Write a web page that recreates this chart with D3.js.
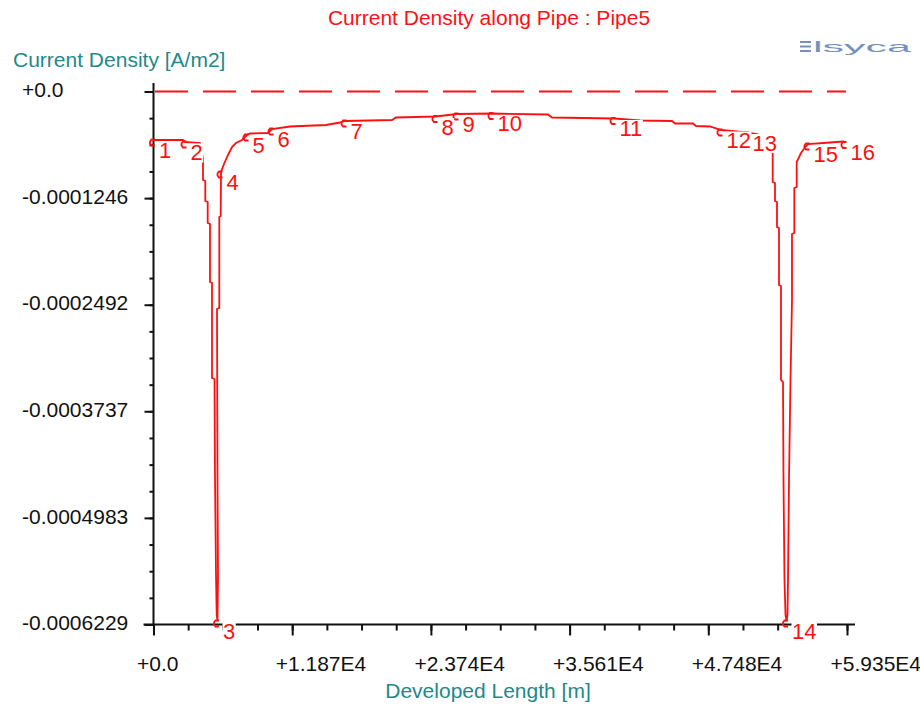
<!DOCTYPE html>
<html>
<head>
<meta charset="utf-8">
<script src="https://cdn.jsdelivr.net/npm/d3@7"></script>
<style>
  html, body { margin: 0; padding: 0; background: #fff; }
  svg { display: block; }
  text { font-family: "Liberation Sans", Arial, sans-serif; }
</style>
</head>
<body>
<svg id="chart" width="920" height="707"></svg>
<script>
// ---------------- data ----------------
const chartTitle = "Current Density along Pipe : Pipe5";
const yTitle = "Current Density [A/m2]";
const xTitle = "Developed Length [m]";

// developed length along the pipe [m]
const distance = [
  0, 2525, 2696, 3979, 4236, 4236, 4433, 4433, 4638, 4638,
  4835, 4835, 5006, 5006, 5220, 5263, 5349, 5409, 5477, 5520,
  5477, 5434, 5631, 5631, 5751, 5777, 6033, 6376, 6718, 7060,
  7574, 8002, 8258, 9799, 10141, 11682, 14763, 15961, 16389, 20411,
  20753, 24176, 25974, 28969, 33761, 34104, 39410, 41635, 44374, 44630,
  46170, 46427, 47626, 48567, 50792, 51647, 52846, 52991, 52991, 53188,
  53188, 53359, 53359, 53530, 53530, 53701, 53701, 53873, 53915, 54001,
  54087, 54172, 54258, 54301, 54386, 54514, 54643, 54643, 54840, 54840,
  55045, 55045, 55413, 55841, 56012, 57895, 59007, 59178
];
// current density [A/m2]
const density = [
  -5.668e-5, -5.668e-5, -5.902e-5, -6.019e-5, -7.772e-5, -1.0343e-4, -1.0460e-4, -1.2797e-4, -1.2914e-4, -1.5368e-4,
  -1.5485e-4, -2.2263e-4, -2.2380e-4, -3.3482e-4, -3.3599e-4, -4.5052e-4, -5.6505e-4, -6.1180e-4, -6.188e-4, -5.6505e-4,
  -4.5052e-4, -2.5419e-4, -2.5302e-4, -1.4667e-4, -1.4550e-4, -9.408e-5, -8.473e-5, -7.421e-5, -6.486e-5, -6.019e-5,
  -5.668e-5, -5.084e-5, -4.908e-5, -4.850e-5, -4.383e-5, -4.090e-5, -3.915e-5, -3.623e-5, -3.448e-5, -3.331e-5,
  -3.039e-5, -2.922e-5, -2.630e-5, -2.571e-5, -2.688e-5, -3.039e-5, -3.155e-5, -3.389e-5, -3.448e-5, -3.740e-5,
  -3.740e-5, -4.032e-5, -4.090e-5, -4.499e-5, -4.792e-5, -4.967e-5, -5.668e-5, -6.837e-5, -1.0576e-4, -1.0693e-4,
  -1.2797e-4, -1.2914e-4, -1.5835e-4, -1.5952e-4, -2.2614e-4, -2.2731e-4, -3.3716e-4, -3.3950e-4, -4.5403e-4, -5.7090e-4,
  -6.1180e-4, -6.188e-4, -6.1180e-4, -5.7090e-4, -4.5403e-4, -3.3716e-4, -2.4367e-4, -1.6654e-4, -1.6537e-4, -1.1278e-4,
  -1.1161e-4, -8.239e-5, -7.187e-5, -6.369e-5, -6.136e-5, -5.960e-5, -5.843e-5, -5.960e-5
];
// labelled nodes (index into the arrays above)
const nodeIndex = [0, 2, 18, 25, 31, 34, 38, 41, 42, 43, 46, 53, 54, 71, 84, 87];
const nodeLabels = ["1","2","3","4","5","6","7","8","9","10","11","12","13","14","15","16"];

const xTickValues = [0, 11870, 23740, 35610, 47480, 59350];
const xTickLabels = ["+0.0", "+1.187E4", "+2.374E4", "+3.561E4", "+4.748E4", "+5.935E4"];
const yTickValues = [0, -0.0001246, -0.0002492, -0.0003737, -0.0004983, -0.0006229];
const yTickLabels = ["+0.0", "-0.0001246", "-0.0002492", "-0.0003737", "-0.0004983", "-0.0006229"];
const referenceLevel = 0;

// ---------------- layout ----------------
const svg = d3.select("#chart");
const red = "#ff1010";
const teal = "#22898a";
const axisColor = "#111";

const x = d3.scaleLinear().domain([0, 59350]).range([153.5, 847]);
const y = d3.scaleLinear().domain([-0.0006229, 0]).range([624.5, 91.5]);

svg.append("rect").attr("width", 920).attr("height", 707).attr("fill", "#fff");

// titles
svg.append("text").attr("x", 489).attr("y", 25).attr("text-anchor", "middle")
  .attr("font-size", 21).attr("fill", red).text(chartTitle);
svg.append("text").attr("x", 13).attr("y", 67)
  .attr("font-size", 21).attr("fill", teal).text(yTitle);
svg.append("text").attr("x", 488).attr("y", 698).attr("text-anchor", "middle")
  .attr("font-size", 21).attr("fill", teal).text(xTitle);

// logo
const logo = svg.append("g").attr("fill", "#7391bf");
[41, 45.5, 50].forEach(yy => logo.append("rect").attr("x", 800).attr("y", yy).attr("width", 11).attr("height", 2));
logo.append("text").attr("x", 813).attr("y", 52).attr("font-size", 15)
  .attr("textLength", 98).attr("lengthAdjust", "spacingAndGlyphs")
  .attr("font-family", "DejaVu Sans").text("lsyca");

// reference dashed line
svg.append("line")
  .attr("x1", x(0) + 1.5).attr("x2", x(59350) - 1)
  .attr("y1", y(referenceLevel)).attr("y2", y(referenceLevel))
  .attr("stroke", red).attr("stroke-width", 2).attr("stroke-dasharray", "33,15");

// axes: minor ticks
const xMinor = d3.range(0, 59350 + 1, 11870 / 4);
const yMinor = d3.range(0, 5 * 4 + 1).map(i => -i * 0.0006229 / 20);

svg.append("g").attr("transform", `translate(0,${y(-0.0006229)})`)
  .call(d3.axisBottom(x).tickValues(xMinor).tickSize(6).tickSizeOuter(0).tickFormat(""))
  .call(g => g.select(".domain").remove())
  .call(g => g.selectAll("line").attr("stroke", axisColor).attr("stroke-width", 2));
svg.append("g").attr("transform", `translate(${x(0)},0)`)
  .call(d3.axisLeft(y).tickValues(yMinor).tickSize(4).tickSizeOuter(0).tickFormat(""))
  .call(g => g.select(".domain").remove())
  .call(g => g.selectAll("line").attr("stroke", axisColor).attr("stroke-width", 2));

// axes: major ticks + labels
svg.append("g").attr("transform", `translate(0,${y(-0.0006229)})`)
  .call(d3.axisBottom(x).tickValues(xTickValues).tickSize(11).tickSizeOuter(0)
    .tickFormat((d, i) => xTickLabels[i]))
  .call(g => g.select(".domain").remove())
  .call(g => g.selectAll("line").attr("stroke", axisColor).attr("stroke-width", 2))
  .call(g => g.selectAll("text").attr("font-size", 21).attr("fill", axisColor)
    .attr("font-family", "Liberation Sans, Arial, sans-serif")
    .attr("text-anchor", "start").attr("x", -17).attr("y", 46).attr("dy", null));

svg.append("g").attr("transform", `translate(${x(0)},0)`)
  .call(d3.axisLeft(y).tickValues(yTickValues).tickSize(9).tickSizeOuter(0)
    .tickFormat((d, i) => yTickLabels[i]))
  .call(g => g.select(".domain").remove())
  .call(g => g.selectAll("line").attr("stroke", axisColor).attr("stroke-width", 2))
  .call(g => g.selectAll("text").attr("font-size", 21).attr("fill", axisColor)
    .attr("font-family", "Liberation Sans, Arial, sans-serif")
    .attr("text-anchor", "start").attr("x", 22 - x(0)).attr("dy", "0.32em").attr("y", -1.5));

// axis lines
svg.append("line").attr("x1", x(0)).attr("x2", x(0))
  .attr("y1", y(0) - 8.5).attr("y2", y(-0.0006229) + 1)
  .attr("stroke", axisColor).attr("stroke-width", 2);
svg.append("line").attr("x1", x(0) - 10).attr("x2", x(59350) + 8)
  .attr("y1", y(-0.0006229)).attr("y2", y(-0.0006229))
  .attr("stroke", axisColor).attr("stroke-width", 2);

// curve
const pts = distance.map((d, i) => [d, density[i]]);
const line = d3.line().x(d => x(d[0])).y(d => y(d[1]));
svg.append("path").datum(pts).attr("d", line)
  .attr("fill", "none").attr("stroke", red).attr("stroke-width", 1.8)
  .attr("stroke-linejoin", "miter");

// node markers (small open brackets)
const nodes = nodeIndex.map((idx, k) => ({ px: x(distance[idx]), py: y(density[idx]), label: nodeLabels[k] }));
svg.append("g").selectAll("path.marker").data(nodes).join("path")
  .attr("class", "marker")
  .attr("d", d => `M${d.px + 1.5},${d.py - 0.5} L${d.px - 2},${d.py - 0.5} L${d.px - 3.5},${d.py + 1.5} L${d.px - 3.5},${d.py + 3.5} L${d.px - 2},${d.py + 5.5} L${d.px + 1.5},${d.py + 5.5}`)
  .attr("fill", "none").attr("stroke", red).attr("stroke-width", 1.8);

// node labels with white background
const lg = svg.append("g");
nodes.forEach(d => {
  const g = lg.append("g");
  const bg = g.append("rect").attr("fill", "#fff");
  const t = g.append("text").attr("x", d.px + 5.5).attr("y", d.py + 18)
    .attr("font-size", 22).attr("fill", red)
    .attr("font-family", "'Liberation Sans Narrow', 'Liberation Sans', Arial, sans-serif")
    .text(d.label);
  const bb = t.node().getBBox();
  bg.attr("x", bb.x - 0.5).attr("y", bb.y + 3.5).attr("width", bb.width + 1).attr("height", bb.height - 6);
});
</script>
</body>
</html>
